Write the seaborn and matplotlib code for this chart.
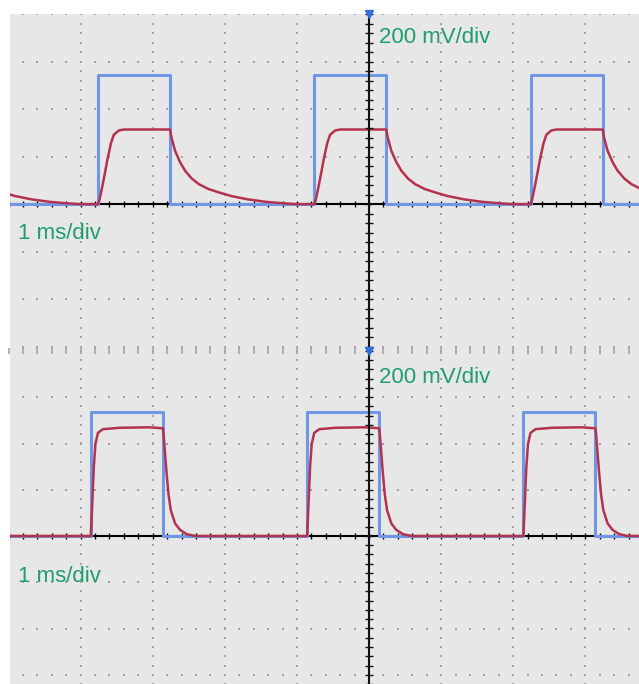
import numpy as np
import pandas as pd
import matplotlib
matplotlib.use("Agg")
import matplotlib.pyplot as plt
import seaborn as sns

# scope settings: 1 ms/div, 200 mV/div, values below in ms and divisions
time_label = "1 ms/div"
volt_label = "200 mV/div"

pulse_width = 1.0
top_pulse_starts = [-6.76, -3.76, -0.76, 2.24]
bot_pulse_starts = [-6.86, -3.86, -0.86, 2.14]
top_square_high = 2.72
bot_square_high = 2.68

# red trace, one pulse: time after the edge (ms) and level (div)
top_rise_t = [0, 0.02, 0.06, 0.10, 0.13, 0.18, 0.22, 0.29, 0.36]
top_rise_v = [0, 0.08, 0.37, 0.68, 0.93, 1.28, 1.46, 1.55, 1.57]
top_fall_t = [0, 0.02, 0.07, 0.14, 0.21, 0.30, 0.40, 0.53, 0.67, 0.85, 1.08, 1.32, 1.55, 1.75]
top_fall_v = [1.57, 1.40, 1.12, 0.88, 0.70, 0.54, 0.42, 0.32, 0.25, 0.17, 0.10, 0.05, 0.02, 0.0]

bot_rise_t = [0, 0.01, 0.023, 0.042, 0.065, 0.10, 0.17, 0.40, 0.80, 1.0]
bot_rise_v = [0, 0.30, 0.77, 1.48, 1.99, 2.23, 2.31, 2.34, 2.35, 2.33]
bot_fall_t = [0, 0.01, 0.03, 0.05, 0.078, 0.11, 0.17, 0.24, 0.33, 0.45]
bot_fall_v = [2.33, 2.20, 1.80, 1.40, 0.91, 0.56, 0.27, 0.13, 0.04, 0.0]

blue = "#6f97e6"
red = "#b3334f"
green = "#1f9e6c"
dot_color = "#a3a3a3"
bg = "#e7e7e7"


def square_df(starts, high):
    t = [-7.5]
    v = [0]
    for s in starts:
        t += [s, s, s + pulse_width, s + pulse_width]
        v += [0, high, high, 0]
    t.append(4.5)
    v.append(0)
    return pd.DataFrame({"time_ms": t, "level_div": v})


def response_df(starts, rise_t, rise_v, fall_t, fall_v):
    t = []
    v = []
    for s in starts:
        t += [s + x for x in rise_t]
        v += rise_v
        t += [s + pulse_width + x for x in fall_t]
        v += fall_v
    t.append(4.5)
    v.append(0)
    return pd.DataFrame({"time_ms": t, "level_div": v})


def graticule(ax, top_row_ticks):
    minor_x = np.arange(-5, 4.01, 0.2)
    minor_y = np.arange(-4, 4.01, 0.2)
    for y in range(-4, 5):
        if y == 0:
            continue
        if y == 4 and top_row_ticks:
            ax.plot(minor_x, np.full(len(minor_x), y), ls="none", marker="|",
                    ms=5, mew=1.2, color=dot_color, zorder=1, clip_on=False)
        else:
            ax.plot(minor_x, np.full(len(minor_x), y), ls="none", marker="s",
                    ms=1.8, mew=0, color=dot_color, zorder=1)
    for x in range(-5, 5):
        if x == 0:
            continue
        ax.plot(np.full(len(minor_y), x), minor_y, ls="none", marker="s",
                ms=1.8, mew=0, color=dot_color, zorder=1)
    # centre axes with small ticks
    ax.axhline(0, color="black", lw=1.5, zorder=2)
    ax.plot(minor_x, np.zeros(len(minor_x)), ls="none", marker="|", ms=5,
            mew=1.0, color="black", zorder=2)
    ax.axvline(0, color="#111111", lw=1.5, zorder=6)
    ax.plot(np.zeros(len(minor_y)), minor_y, ls="none", marker="_", ms=6,
            mew=1.0, color="#111111", zorder=6)
    ax.plot([0], [4], ls="none", marker="v", ms=6, color="#2f6fd6",
            zorder=7, clip_on=False)


fig = plt.figure(figsize=(6.39, 6.84), dpi=100)
ax_top = fig.add_axes([10 / 639, 1 - 351 / 684, 629 / 639, 337 / 684])
ax_bot = fig.add_axes([10 / 639, 0, 629 / 639, 333 / 684])

panels = [
    (ax_top, top_pulse_starts, top_square_high, top_rise_t, top_rise_v,
     top_fall_t, top_fall_v, (-3.09, 4.0), False, 3.40, -0.74),
    (ax_bot, bot_pulse_starts, bot_square_high, bot_rise_t, bot_rise_v,
     bot_fall_t, bot_fall_v, (-3.2, 4.0), True, 3.31, -0.99),
]

for ax, starts, high, rt, rv, ft, fv, ylim, ticks_row, vy, ty in panels:
    ax.set_facecolor(bg)
    graticule(ax, ticks_row)
    sns.lineplot(data=square_df(starts, high), x="time_ms", y="level_div",
                 sort=False, estimator=None, color=blue, lw=2.2, ax=ax, zorder=3)
    sns.lineplot(data=response_df(starts, rt, rv, ft, fv), x="time_ms",
                 y="level_div", sort=False, estimator=None, color=red, lw=1.8,
                 ax=ax, zorder=4)
    ax.text(0.14, vy, volt_label, color=green, fontsize=16,
            family=["Liberation Sans", "DejaVu Sans"], va="baseline", zorder=8)
    ax.text(-4.87, ty, time_label, color=green, fontsize=16,
            family=["Liberation Sans", "DejaVu Sans"], va="baseline", zorder=8)
    ax.set_xlim(-4.98, 3.745)
    ax.set_ylim(*ylim)
    ax.set_xlabel("")
    ax.set_ylabel("")
    ax.set_xticks([])
    ax.set_yticks([])
    for sp in ax.spines.values():
        sp.set_visible(False)

fig.savefig("out.png", dpi=100, facecolor="white")
